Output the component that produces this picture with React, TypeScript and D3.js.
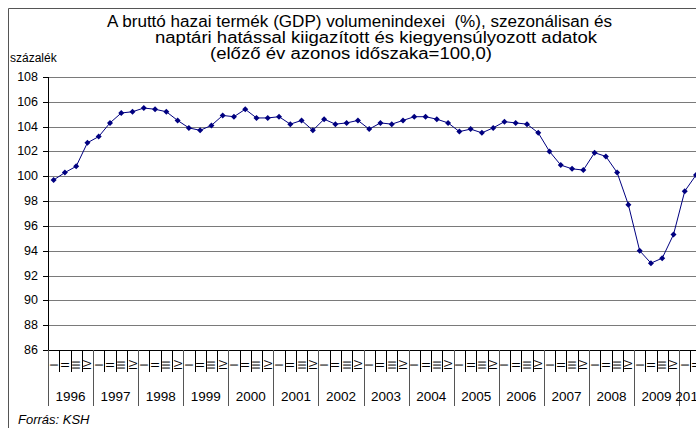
import React from 'react';
import * as d3 from 'd3';

// Negyedéves GDP volumenindexek (előző év azonos időszaka = 100,0)
const years = ['1996', '1997', '1998', '1999', '2000', '2001', '2002', '2003', '2004', '2005', '2006', '2007', '2008', '2009', '2010'];
const quarters = ['I', 'II', 'III', 'IV'];
const gdpIndex = [
  99.7, 100.3, 100.8, 102.7,
  103.2, 104.3, 105.1, 105.2,
  105.5, 105.4, 105.2, 104.5,
  103.9, 103.7, 104.1, 104.9,
  104.8, 105.4, 104.7, 104.7,
  104.8, 104.2, 104.5, 103.7,
  104.6, 104.2, 104.3, 104.5,
  103.8, 104.3, 104.2, 104.5,
  104.8, 104.8, 104.6, 104.3,
  103.6, 103.8, 103.5, 103.9,
  104.4, 104.3, 104.2, 103.5,
  102.0, 100.9, 100.6, 100.5,
  101.9, 101.6, 100.3, 97.7,
  94.0, 93.0, 93.4, 95.3,
  98.8, 100.1,
];
const yTicks = [86, 88, 90, 92, 94, 96, 98, 100, 102, 104, 106, 108];
const titleLines = [
  'A bruttó hazai termék (GDP) volumenindexei  (%), szezonálisan és',
  'naptári hatással kiigazított és kiegyensúlyozott adatok',
  '(előző év azonos időszaka=100,0)',
];

const W = 696;
const H = 428;
const plot = { left: 48, top: 77, bottom: 350 };
const step = 11.27;
const font = '"Liberation Sans", Arial, sans-serif';
const navy = '#000080';

export default function App() {
  const categories = years.flatMap((y) => quarters.map((q) => `${y} ${q}`)).slice(0, gdpIndex.length);

  const x = d3.scaleBand<string>()
    .domain(categories)
    .range([plot.left, plot.left + step * categories.length])
    .paddingInner(0)
    .paddingOuter(0);

  const y = d3.scaleLinear().domain([86, 108]).range([plot.bottom, plot.top]);
  const plotRight = x.range()[1];

  const line = d3.line<number>()
    .x((_, i) => x(categories[i])! + x.bandwidth() / 2)
    .y((d) => y(d));

  const diamond = d3.symbol().type(d3.symbolSquare).size(18)();

  // Év szerinti csoportok a tengelyfeliratokhoz
  const yearGroups = years
    .map((yr) => {
      const cats = categories.filter((c) => c.startsWith(yr));
      if (!cats.length) return null;
      const x0 = x(cats[0])!;
      const x1 = x(cats[cats.length - 1])! + x.bandwidth();
      return { yr, x0, x1 };
    })
    .filter(Boolean) as { yr: string; x0: number; x1: number }[];

  const titleStarts = [107, 155, 210];
  const titleWidths = [505, 442, 282];
  const titleBaselines = [27, 43, 58.5];

  return (
    <div style={{ position: 'fixed', left: 0, top: 0, width: W, height: H, overflow: 'hidden', background: '#fff' }}>
      <svg width={W} height={H} style={{ display: 'block', fontFamily: font }}>
        <rect x={0} y={0} width={W} height={H} fill="#fff" />
        {/* külső keret */}
        <line x1={8.5} x2={8.5} y1={8.5} y2={H} stroke="#555" />
        <line x1={8.5} x2={W} y1={8.5} y2={8.5} stroke="#555" />

        {titleLines.map((t, i) => (
          <text key={i} x={titleStarts[i]} y={titleBaselines[i]} fontSize={16}
            textLength={titleWidths[i]} lengthAdjust="spacingAndGlyphs"
            fill="#000" style={{ whiteSpace: 'pre' }}>{t}</text>
        ))}
        <text x={10} y={62} fontSize={12} fill="#000">százalék</text>

        {/* rácsvonalak */}
        {yTicks.filter((t) => t !== 86).map((t) => (
          <line key={t} x1={plot.left} x2={plotRight} y1={Math.round(y(t)) + 0.5} y2={Math.round(y(t)) + 0.5}
            stroke="#7a7a7a" />
        ))}

        {/* y tengely */}
        <line x1={plot.left + 0.5} x2={plot.left + 0.5} y1={plot.top} y2={plot.bottom} stroke="#000" />
        {yTicks.map((t) => (
          <g key={t}>
            <line x1={plot.left - 5} x2={plot.left} y1={Math.round(y(t)) + 0.5} y2={Math.round(y(t)) + 0.5} stroke="#000" />
            <text x={38} y={y(t)} textAnchor="end" dominantBaseline="central" fontSize={12.5} fill="#000">{t}</text>
          </g>
        ))}

        {/* x tengely */}
        <line x1={plot.left} x2={plotRight} y1={plot.bottom + 0.5} y2={plot.bottom + 0.5} stroke="#000" />
        {categories.map((c, i) => {
          const bx = Math.round(x(c)!) + 0.5;
          const isYear = i % 4 === 0;
          return (
            <line key={c} x1={bx} x2={bx} y1={plot.bottom} y2={isYear ? 406 : 372}
              stroke={isYear ? '#555' : '#000'} />
          );
        })}
        {categories.map((c, i) => {
          const cx = x(c)! + x.bandwidth() / 2;
          return (
            <text key={c} transform={`translate(${cx},365) rotate(-90)`} textAnchor="middle"
              dominantBaseline="central" fontSize={10.5} fill="#000">{quarters[i % 4]}</text>
          );
        })}
        {yearGroups.map((g) => (
          <text key={g.yr} x={(g.x0 + g.x1) / 2} y={401} textAnchor="middle" fontSize={13.5} fill="#000">{g.yr}</text>
        ))}

        {/* adatsor */}
        <path d={line(gdpIndex) ?? ''} fill="none" stroke={navy} strokeWidth={1} />
        {gdpIndex.map((v, i) => (
          <path key={i} d={diamond ?? ''} fill={navy}
            transform={`translate(${x(categories[i])! + x.bandwidth() / 2},${y(v)}) rotate(45)`} />
        ))}

        <text x={18} y={424} fontSize={13} fontStyle="italic" fill="#000">Forrás: KSH</text>
      </svg>
    </div>
  );
}
